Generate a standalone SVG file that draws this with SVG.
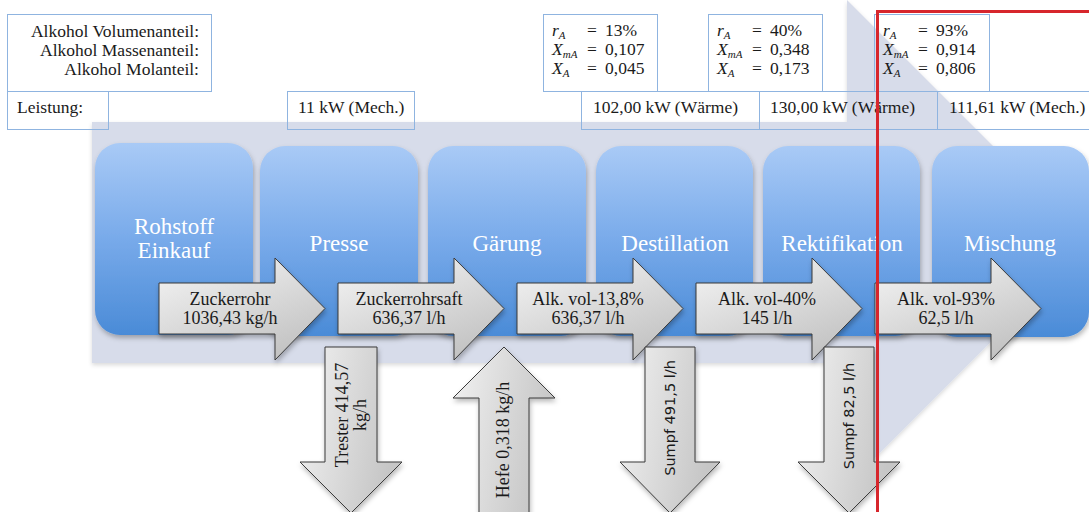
<svg xmlns="http://www.w3.org/2000/svg" width="1089" height="512" viewBox="0 0 1089 512">
  <style>
    .lbl { font-family: "Liberation Serif", "Times New Roman", serif; font-size: 17.5px; fill: #1a1a1a; }
    .fm { font-family: "Liberation Serif", "Times New Roman", serif; font-size: 17.5px; fill: #1a1a1a; }
    .var { font-style: italic; }
    .sub { font-style: italic; font-size: 11px; }
    .box { fill: none; stroke: #8fb4e0; stroke-width: 1; }
    .step { fill: url(#stepFill); filter: url(#soft); }
    .stepTxt { font-family: "Liberation Serif", "Times New Roman", serif; font-size: 23px; fill: #ffffff; text-anchor: middle; }
    .flow { fill: url(#flowFill); stroke: #3a3a3a; stroke-width: 1; filter: url(#soft); }
    .vflow { fill: url(#vflowFill); stroke: #3a3a3a; stroke-width: 1; filter: url(#soft); }
    .flowTxt { font-family: "Liberation Serif", "Times New Roman", serif; font-size: 18px; fill: #1a1a1a; text-anchor: middle; }
    .sideTxt { font-family: "DejaVu Sans", "Liberation Sans", sans-serif; font-size: 14.5px; fill: #1a1a1a; text-anchor: middle; }
  </style>
  <defs>
    <linearGradient id="stepFill" x1="0" y1="0" x2="0" y2="1">
      <stop offset="0" stop-color="#a9caf6"/>
      <stop offset="0.5" stop-color="#78aaea"/>
      <stop offset="1" stop-color="#4a8bd7"/>
    </linearGradient>
    <linearGradient id="flowFill" x1="0" y1="0" x2="0.6" y2="1">
      <stop offset="0" stop-color="#f6f6f6"/>
      <stop offset="1" stop-color="#c4c4c4"/>
    </linearGradient>
    <linearGradient id="vflowFill" x1="0" y1="0" x2="1" y2="0.3">
      <stop offset="0" stop-color="#f2f2f2"/>
      <stop offset="1" stop-color="#c6c6c6"/>
    </linearGradient>
    <filter id="soft" x="-10%" y="-10%" width="125%" height="130%">
      <feDropShadow dx="1" dy="3" stdDeviation="2.5" flood-color="#000" flood-opacity="0.28"/>
    </filter>
    <filter id="faint" x="-5%" y="-5%" width="110%" height="115%">
      <feDropShadow dx="0" dy="2" stdDeviation="2" flood-color="#000" flood-opacity="0.15"/>
    </filter>
  </defs>

  <rect width="1089" height="512" fill="#ffffff"/>

  <!-- large process backdrop arrow -->
  <path id="backdrop" d="M92,122 H847 V0 L1090,243 L847,486 V363 H92 Z" fill="#d7dcea" filter="url(#faint)"/>

  <!-- process steps -->
  <g id="step-rohstoff">
    <rect class="step" x="95" y="143" width="158" height="192" rx="25"/>
    <text class="stepTxt" x="174" y="234">Rohstoff</text>
    <text class="stepTxt" x="174" y="258">Einkauf</text>
  </g>
  <g id="step-presse">
    <rect class="step" x="260" y="146" width="158" height="190" rx="25"/>
    <text class="stepTxt" x="339" y="251">Presse</text>
  </g>
  <g id="step-gaerung">
    <rect class="step" x="428" y="146" width="158" height="190" rx="25"/>
    <text class="stepTxt" x="507" y="251">Gärung</text>
  </g>
  <g id="step-destillation">
    <rect class="step" x="596" y="146" width="157" height="190" rx="25"/>
    <text class="stepTxt" x="675" y="251">Destillation</text>
  </g>
  <g id="step-rektifikation">
    <rect class="step" x="763" y="146" width="157" height="190" rx="25"/>
    <text class="stepTxt" x="842" y="251">Rektifikation</text>
  </g>
  <g id="step-mischung">
    <rect class="step" x="932" y="146" width="157" height="191" rx="25"/>
    <text class="stepTxt" x="1010" y="251">Mischung</text>
  </g>

  <!-- material flows -->
  <g id="connectors">
    <g id="flow-zuckerrohr">
      <path class="flow" d="M159,283 H275 V258 L325,308.5 L275,360 V334 H159 Z"/>
      <text class="flowTxt" x="230" y="305">Zuckerrohr</text>
      <text class="flowTxt" x="230" y="324">1036,43 kg/h</text>
    </g>
    <g id="flow-saft">
      <path class="flow" d="M338,283 H454 V258 L504,308.5 L454,360 V334 H338 Z"/>
      <text class="flowTxt" x="409" y="305">Zuckerrohrsaft</text>
      <text class="flowTxt" x="409" y="324">636,37 l/h</text>
    </g>
    <g id="flow-maische">
      <path class="flow" d="M517,283 H633 V258 L683,308.5 L633,360 V334 H517 Z"/>
      <text class="flowTxt" x="588" y="305">Alk. vol-13,8%</text>
      <text class="flowTxt" x="588" y="324">636,37 l/h</text>
    </g>
    <g id="flow-rohbrand">
      <path class="flow" d="M696,283 H812 V258 L862,308.5 L812,360 V334 H696 Z"/>
      <text class="flowTxt" x="767" y="305">Alk. vol-40%</text>
      <text class="flowTxt" x="767" y="324">145 l/h</text>
    </g>
    <g id="flow-feinbrand">
      <path class="flow" d="M875,283 H991 V258 L1041,308.5 L991,360 V334 H875 Z"/>
      <text class="flowTxt" x="946" y="305">Alk. vol-93%</text>
      <text class="flowTxt" x="946" y="324">62,5 l/h</text>
    </g>

    <g id="flow-trester">
      <path class="vflow" d="M325,347 H377 V462 H402 L351,513 L300,462 H325 Z"/>
      <g transform="translate(351,415) rotate(-90)">
        <text class="flowTxt" x="0" y="-3">Trester 414,57</text>
        <text class="flowTxt" x="0" y="15">kg/h</text>
      </g>
    </g>
    <g id="flow-hefe">
      <path class="vflow" d="M504,347 L555,398 H529 V515 H479 V398 H453 Z"/>
      <text class="flowTxt" transform="translate(504,440) rotate(-90)" x="0" y="5">Hefe 0,318 kg/h</text>
    </g>
    <g id="flow-sumpf1">
      <path class="vflow" d="M645,347 H695 V462 H720 L670,513 L620,462 H645 Z"/>
      <text class="sideTxt" transform="translate(670,418) rotate(-90)" x="0" y="5">Sumpf 491,5 l/h</text>
    </g>
    <g id="flow-sumpf2">
      <path class="vflow" d="M824,347 H874 V462 H900 L849,513 L798,462 H824 Z"/>
      <text class="sideTxt" transform="translate(849,416) rotate(-90)" x="0" y="5">Sumpf 82,5 l/h</text>
    </g>
  </g>

  <!-- legend of the value rows -->
  <g id="legend">
    <rect class="box" x="7.5" y="14.5" width="204" height="77"/>
    <text class="lbl" x="199" y="37" text-anchor="end">Alkohol Volumenanteil:</text>
    <text class="lbl" x="199" y="56" text-anchor="end">Alkohol Massenanteil:</text>
    <text class="lbl" x="199" y="75" text-anchor="end">Alkohol Molanteil:</text>
  </g>
  <g id="power-label">
    <rect class="box" x="7.5" y="91.5" width="101" height="38"/>
    <text class="lbl" x="17" y="113">Leistung:</text>
  </g>
  <g id="power-presse">
    <rect class="box" x="287.5" y="91.5" width="127" height="38"/>
    <text class="lbl" x="298" y="113">11 kW (Mech.)</text>
  </g>
  <g id="power-destillation">
    <rect class="box" x="581.5" y="91.5" width="178" height="38"/>
    <text class="lbl" x="593" y="113">102,00 kW (Wärme)</text>
  </g>
  <g id="power-rektifikation">
    <rect class="box" x="759.5" y="91.5" width="178" height="38"/>
    <text class="lbl" x="770" y="113">130,00 kW (Wärme)</text>
  </g>
  <g id="power-mischung">
    <rect class="box" x="937.5" y="91.5" width="160" height="38"/>
    <text class="lbl" x="949" y="113">111,61 kW (Mech.)</text>
  </g>

  <!-- alcohol content after each stage -->
  <g id="content-13">
    <rect class="box" x="543.5" y="14.5" width="114" height="77"/>
    <text class="fm" x="552" y="36"><tspan class="var">r</tspan><tspan class="sub" dy="3">A</tspan></text>
    <text class="fm" x="587" y="36">=</text><text class="fm" x="605" y="36">13%</text>
    <text class="fm" x="552" y="55"><tspan class="var">X</tspan><tspan class="sub" dy="3">mA</tspan></text>
    <text class="fm" x="587" y="55">=</text><text class="fm" x="605" y="55">0,107</text>
    <text class="fm" x="552" y="74"><tspan class="var">X</tspan><tspan class="sub" dy="3">A</tspan></text>
    <text class="fm" x="587" y="74">=</text><text class="fm" x="605" y="74">0,045</text>
  </g>
  <g id="content-40">
    <rect class="box" x="708.5" y="14.5" width="114" height="77"/>
    <text class="fm" x="717" y="36"><tspan class="var">r</tspan><tspan class="sub" dy="3">A</tspan></text>
    <text class="fm" x="752" y="36">=</text><text class="fm" x="770" y="36">40%</text>
    <text class="fm" x="717" y="55"><tspan class="var">X</tspan><tspan class="sub" dy="3">mA</tspan></text>
    <text class="fm" x="752" y="55">=</text><text class="fm" x="770" y="55">0,348</text>
    <text class="fm" x="717" y="74"><tspan class="var">X</tspan><tspan class="sub" dy="3">A</tspan></text>
    <text class="fm" x="752" y="74">=</text><text class="fm" x="770" y="74">0,173</text>
  </g>
  <g id="content-93">
    <rect class="box" x="874.5" y="14.5" width="115" height="77"/>
    <text class="fm" x="883" y="36"><tspan class="var">r</tspan><tspan class="sub" dy="3">A</tspan></text>
    <text class="fm" x="918" y="36">=</text><text class="fm" x="936" y="36">93%</text>
    <text class="fm" x="883" y="55"><tspan class="var">X</tspan><tspan class="sub" dy="3">mA</tspan></text>
    <text class="fm" x="918" y="55">=</text><text class="fm" x="936" y="55">0,914</text>
    <text class="fm" x="883" y="74"><tspan class="var">X</tspan><tspan class="sub" dy="3">A</tspan></text>
    <text class="fm" x="918" y="74">=</text><text class="fm" x="936" y="74">0,806</text>
  </g>

  <!-- highlight frame around the final stage -->
  <rect id="highlight" x="877.5" y="11.5" width="300" height="600" fill="none" stroke="#d7262c" stroke-width="3"/>
</svg>
